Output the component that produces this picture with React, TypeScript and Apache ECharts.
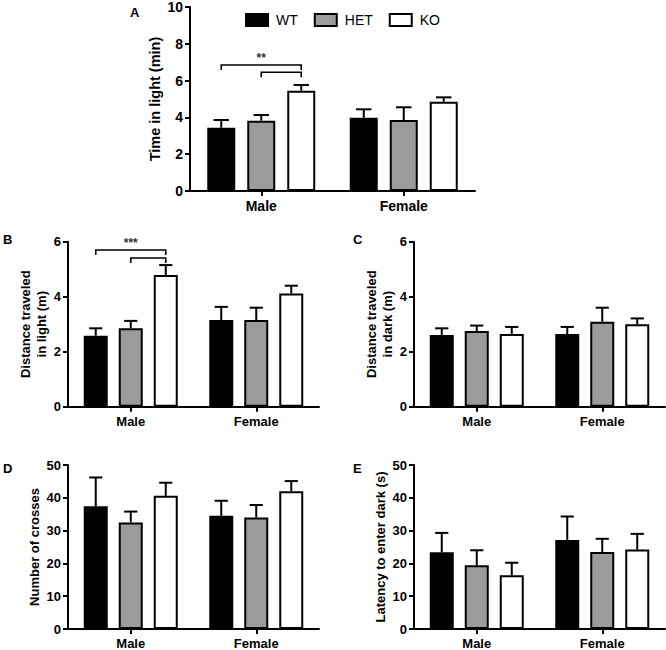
import React, { useEffect, useRef } from 'react';
import * as echarts from 'echarts';

// ---------- data ----------
const genotypes = ['WT', 'HET', 'KO'];
const sexes = ['Male', 'Female'];

// A: Time in light (min)   [Male, Female]
const lightTimeWT = [3.44, 3.98];
const lightTimeHET = [3.82, 3.86];
const lightTimeKO = [5.45, 4.85];
const lightTimeSemWT = [0.42, 0.46];
const lightTimeSemHET = [0.31, 0.69];
const lightTimeSemKO = [0.31, 0.24];

// B: Distance traveled in light (m)
const lightDistWT = [2.58, 3.15];
const lightDistHET = [2.85, 3.15];
const lightDistKO = [4.79, 4.12];
const lightDistSemWT = [0.27, 0.48];
const lightDistSemHET = [0.27, 0.45];
const lightDistSemKO = [0.36, 0.28];

// C: Distance traveled in dark (m)
const darkDistWT = [2.61, 2.64];
const darkDistHET = [2.75, 3.09];
const darkDistKO = [2.64, 3.0];
const darkDistSemWT = [0.24, 0.26];
const darkDistSemHET = [0.2, 0.51];
const darkDistSemKO = [0.26, 0.21];

// D: Number of crosses
const crossesWT = [37.4, 34.5];
const crossesHET = [32.5, 34.0];
const crossesKO = [40.6, 42.0];
const crossesSemWT = [8.8, 4.6];
const crossesSemHET = [3.3, 3.8];
const crossesSemKO = [4.0, 3.1];

// E: Latency to enter dark (s)
const latencyWT = [23.4, 27.1];
const latencyHET = [19.4, 23.5];
const latencyKO = [16.4, 24.2];
const latencySemWT = [5.9, 7.2];
const latencySemHET = [4.6, 4.0];
const latencySemKO = [3.8, 4.8];

// significance brackets: [category, fromGenotype, toGenotype, yLevel, label]
const sigA: [number, number, number, number, string][] = [
  [0, 0, 2, 6.85, '**'],
  [0, 1, 2, 6.45, ''],
];
const sigB: [number, number, number, number, string][] = [
  [0, 0, 2, 5.7, '***'],
  [0, 1, 2, 5.41, ''],
];

// ---------- style / layout ----------
const FONT = '"Liberation Sans", Arial, Helvetica, sans-serif';
const fills = ['#000000', '#9b9b9d', '#ffffff'];

type Panel = {
  letter: string;
  name: string;
  max: number;
  interval: number;
  means: number[][];
  sems: number[][];
  grid: { left: number; top: number; width: number; height: number };
  barWidth: number;
  gap: number;
  nameGap: number;
  fontSize: number;
  nameSize: number;
  letterPos: [number, number];
  sig?: [number, number, number, number, string][];
};

const panels: Panel[] = [
  {
    letter: 'A',
    name: 'Time in light (min)',
    max: 10,
    interval: 2,
    means: [lightTimeWT, lightTimeHET, lightTimeKO],
    sems: [lightTimeSemWT, lightTimeSemHET, lightTimeSemKO],
    grid: { left: 190, top: 7, width: 285, height: 184 },
    barWidth: 28,
    gap: 12,
    nameGap: 22,
    fontSize: 14,
    nameSize: 14.5,
    letterPos: [130, 6],
    sig: sigA,
  },
  {
    letter: 'B',
    name: 'Distance traveled\nin light (m)',
    max: 6,
    interval: 2,
    means: [lightDistWT, lightDistHET, lightDistKO],
    sems: [lightDistSemWT, lightDistSemHET, lightDistSemKO],
    grid: { left: 68, top: 241.7, width: 251, height: 165 },
    barWidth: 24,
    gap: 11,
    nameGap: 14,
    fontSize: 13,
    nameSize: 13,
    letterPos: [3, 233],
    sig: sigB,
  },
  {
    letter: 'C',
    name: 'Distance traveled\nin dark (m)',
    max: 6,
    interval: 2,
    means: [darkDistWT, darkDistHET, darkDistKO],
    sems: [darkDistSemWT, darkDistSemHET, darkDistSemKO],
    grid: { left: 414, top: 241.7, width: 251, height: 165 },
    barWidth: 24,
    gap: 11,
    nameGap: 14,
    fontSize: 13,
    nameSize: 13,
    letterPos: [353, 233],
  },
  {
    letter: 'D',
    name: 'Number of crosses',
    max: 50,
    interval: 10,
    means: [crossesWT, crossesHET, crossesKO],
    sems: [crossesSemWT, crossesSemHET, crossesSemKO],
    grid: { left: 68, top: 465, width: 251, height: 165 },
    barWidth: 24,
    gap: 11,
    nameGap: 24,
    fontSize: 13,
    nameSize: 13,
    letterPos: [3, 462],
  },
  {
    letter: 'E',
    name: 'Latency to enter dark (s)',
    max: 50,
    interval: 10,
    means: [latencyWT, latencyHET, latencyKO],
    sems: [latencySemWT, latencySemHET, latencySemKO],
    grid: { left: 414, top: 465, width: 251, height: 165 },
    barWidth: 24,
    gap: 11,
    nameGap: 24,
    fontSize: 13,
    nameSize: 13,
    letterPos: [353, 462],
  },
];

function buildOption() {
  const grids: any[] = [];
  const xAxes: any[] = [];
  const yAxes: any[] = [];
  const series: any[] = [];
  const graphics: any[] = [];

  panels.forEach((p, pi) => {
    grids.push({ ...p.grid });
    const axisLine = { show: true, lineStyle: { color: '#000', width: 2 } };
    const axisTick = { show: true, length: 5, lineStyle: { color: '#000', width: 2 } };
    xAxes.push({
      type: 'category',
      gridIndex: pi,
      data: sexes,
      axisLine,
      axisTick: { ...axisTick, alignWithLabel: true },
      axisLabel: {
        color: '#000',
        fontWeight: 'bold',
        fontSize: p.fontSize,
        fontFamily: FONT,
        margin: 8,
      },
      splitLine: { show: false },
    });
    yAxes.push({
      type: 'value',
      gridIndex: pi,
      min: 0,
      max: p.max,
      interval: p.interval,
      axisLine,
      axisTick,
      axisLabel: {
        color: '#000',
        fontWeight: 'bold',
        fontSize: p.fontSize,
        fontFamily: FONT,
        margin: 7,
      },
      splitLine: { show: false },
      name: p.name,
      nameLocation: 'middle',
      nameRotate: 90,
      nameGap: p.nameGap,
      nameTextStyle: {
        color: '#000',
        fontWeight: 'bold',
        fontSize: p.nameSize,
        fontFamily: FONT,
        lineHeight: p.nameSize + 3,
        align: 'center',
      },
    });

    const gapPct = (p.gap / p.barWidth) * 100 + '%';
    genotypes.forEach((g, gi) => {
      series.push({
        type: 'bar',
        name: g,
        xAxisIndex: pi,
        yAxisIndex: pi,
        data: p.means[gi],
        barWidth: p.barWidth,
        barGap: gapPct,
        itemStyle: { color: fills[gi], borderColor: '#000', borderWidth: 2 },
        z: 2,
      });
    });

    const step = p.barWidth + p.gap;
    const errData: number[][] = [];
    genotypes.forEach((_, gi) => {
      sexes.forEach((_, ci) => {
        errData.push([ci, gi, p.means[gi][ci], p.means[gi][ci] + p.sems[gi][ci]]);
      });
    });
    const cap = p.barWidth * 0.55;
    series.push({
      type: 'custom',
      xAxisIndex: pi,
      yAxisIndex: pi,
      data: errData,
      encode: { x: 0, y: [2, 3] },
      z: 3,
      silent: true,
      renderItem: (params: any, api: any) => {
        const c = api.value(0);
        const g = api.value(1);
        const base = api.coord([c, api.value(2)]);
        const top = api.coord([c, api.value(3)]);
        const x = base[0] + (g - 1) * step;
        const st = { stroke: '#000', lineWidth: 2 };
        return {
          type: 'group',
          children: [
            { type: 'line', shape: { x1: x, y1: base[1], x2: x, y2: top[1] }, style: st },
            { type: 'line', shape: { x1: x - cap / 2, y1: top[1], x2: x + cap / 2, y2: top[1] }, style: st },
          ],
        };
      },
    });

    if (p.sig) {
      series.push({
        type: 'custom',
        xAxisIndex: pi,
        yAxisIndex: pi,
        data: p.sig.map((s) => [s[0], s[1], s[2], s[3]]),
        encode: { x: 0, y: 3 },
        z: 4,
        silent: true,
        renderItem: (params: any, api: any) => {
          const s = p.sig![params.dataIndex];
          const pt = api.coord([s[0], s[3]]);
          const x1 = pt[0] + (s[1] - 1) * step;
          const x2 = pt[0] + (s[2] - 1) * step;
          const y = pt[1];
          const children: any[] = [
            {
              type: 'polyline',
              shape: { points: [[x1, y + 5], [x1, y], [x2, y], [x2, y + 5]] },
              style: { stroke: '#000', lineWidth: 1.6, fill: 'none' },
            },
          ];
          if (s[4]) {
            children.push({
              type: 'text',
              style: {
                text: s[4],
                x: (x1 + x2) / 2,
                y: y - 1,
                align: 'center',
                verticalAlign: 'bottom',
                fontSize: 12,
                fontWeight: 'bold',
                fontFamily: FONT,
                fill: '#333',
              },
            });
          }
          return { type: 'group', children };
        },
      });
    }

    graphics.push({
      type: 'text',
      left: p.letterPos[0],
      top: p.letterPos[1],
      style: {
        text: p.letter,
        fontSize: 13,
        fontWeight: 'bold',
        fontFamily: FONT,
        fill: '#000',
      },
    });
  });

  return {
    animation: false,
    backgroundColor: '#ffffff',
    legend: {
      data: genotypes,
      left: 240,
      top: 8,
      icon: 'rect',
      itemWidth: 22,
      itemHeight: 12,
      itemGap: 16,
      selectedMode: false,
      textStyle: { fontSize: 14, fontFamily: FONT, color: '#000', padding: [0, 0, 0, 3] },
    },
    grid: grids,
    xAxis: xAxes,
    yAxis: yAxes,
    series,
    graphic: graphics,
  };
}

export default function App() {
  const ref = useRef<HTMLDivElement>(null);
  useEffect(() => {
    if (!ref.current) return;
    const chart = echarts.init(ref.current, undefined, { renderer: 'svg' });
    chart.setOption(buildOption() as any);
    return () => chart.dispose();
  }, []);
  return (
    <div
      ref={ref}
      style={{ position: 'absolute', left: 0, top: 0, width: 666, height: 650, background: '#fff' }}
    />
  );
}
